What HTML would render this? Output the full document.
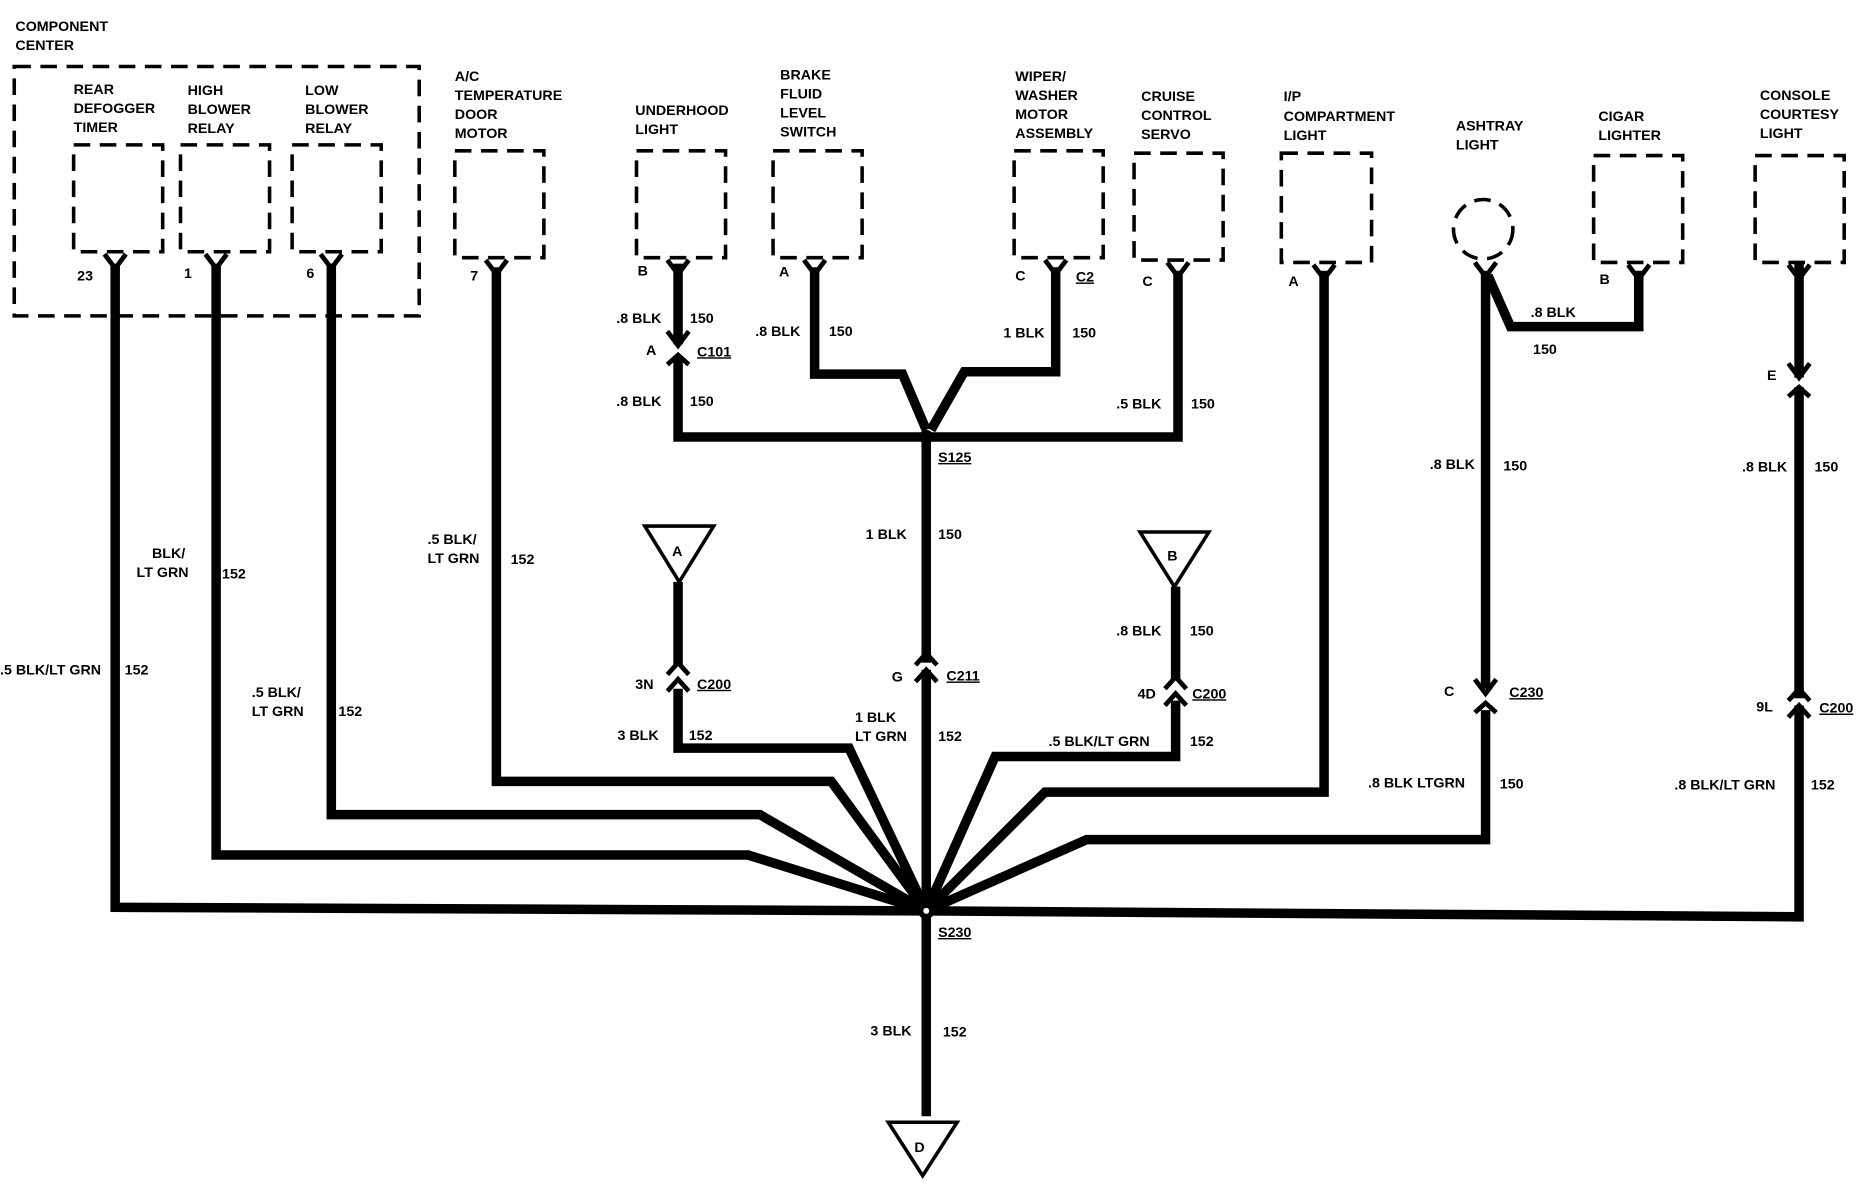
<!DOCTYPE html>
<html><head><meta charset="utf-8"><style>
html,body{margin:0;padding:0;background:#fff;}
svg{display:block}
text{font-family:"Liberation Sans",sans-serif;font-weight:bold;font-size:12px;fill:#000}
.u{text-decoration:underline}
</style></head><body>
<svg width="1862" height="1184" viewBox="0 0 1568 997" preserveAspectRatio="none" xmlns="http://www.w3.org/2000/svg">
<g fill="none" stroke="#000" stroke-width="3" stroke-dasharray="14,8">
<rect x="12" y="56" width="341" height="210"/>
<rect x="62" y="122" width="75" height="90"/>
<rect x="152" y="122" width="75" height="90"/>
<rect x="246" y="122" width="75" height="90"/>
<rect x="383" y="127" width="75" height="90"/>
<rect x="536" y="127" width="75" height="90"/>
<rect x="651" y="127" width="75" height="90"/>
<rect x="854" y="127" width="75" height="90"/>
<rect x="955" y="129" width="75" height="90"/>
<rect x="1079" y="129" width="76" height="92"/>
<circle cx="1249" cy="193" r="25"/>
<rect x="1342" y="131" width="75" height="90"/>
<rect x="1478" y="131" width="75" height="90"/>
</g>
<g fill="none" stroke="#000" stroke-width="8" stroke-linejoin="miter">
<polyline points="97,222 97,764 780,767"/>
<polyline points="182,222 182,720 630,720 780,767"/>
<polyline points="279,222 279,686 640,686 780,767"/>
<polyline points="418,225 418,658 700,658 780,767"/>
<polyline points="571,580 571,630 715,630 780,767"/>
<line x1="571" y1="490" x2="571" y2="560"/>
<line x1="780" y1="368" x2="780" y2="940"/>
<polyline points="990,590 990,637 838,637 780,767"/>
<line x1="990" y1="494" x2="990" y2="572"/>
<polyline points="1115,228 1115,667 880,667 780,767"/>
<polyline points="1251,228 1251,580"/>
<polyline points="1251,598 1251,707 915,707 780,767"/>
<polyline points="1515,222 1515,772 780,767"/>
<polyline points="571,222 571,290"/>
<polyline points="571,300 571,368 992,368 992,228"/>
<polyline points="686,225 686,315 760,315 780,362"/>
<polyline points="889,225 889,313 812,313 784,362"/>
<polyline points="1253,232 1272,275 1380,275 1380,228"/>
</g>
<g fill="#fff">
<rect x="560" y="291" width="22" height="8"/>
<rect x="560" y="566" width="22" height="6"/>
<rect x="769" y="558" width="22" height="6"/>
<rect x="979" y="578" width="22" height="6"/>
<rect x="1240" y="584" width="22" height="8"/>
<rect x="1504" y="318" width="22" height="8"/>
<rect x="1504" y="588" width="22" height="6"/>
</g>
<g fill="none" stroke="#000" stroke-width="4">
<polyline points="88,214 97,226 106,214"/>
<polyline points="173,214 182,226 191,214"/>
<polyline points="270,214 279,226 288,214"/>
<polyline points="409,219 418,231 427,219"/>
<polyline points="562,219 571,231 580,219"/>
<polyline points="677,219 686,231 695,219"/>
<polyline points="880,219 889,231 898,219"/>
<polyline points="983,221 992,233 1001,221"/>
<polyline points="1106,223 1115,235 1124,223"/>
<polyline points="1242,221 1251,233 1260,221"/>
<polyline points="1371,223 1380,235 1389,223"/>
<polyline points="1506,223 1515,235 1524,223"/>
<polyline points="562,279 571,291 580,279"/><polyline points="562,307 571,299 580,307"/>
<polyline points="562,568 571,558 580,568"/><polyline points="562,582 571,572 580,582"/>
<polyline points="771,560 780,550 789,560"/><polyline points="771,574 780,564 789,574"/>
<polyline points="981,580 990,570 999,580"/><polyline points="981,594 990,584 999,594"/>
<polyline points="1242,572 1251,584 1260,572"/><polyline points="1242,600 1251,592 1260,600"/>
<polyline points="1506,306 1515,318 1524,306"/><polyline points="1506,334 1515,326 1524,334"/>
<polyline points="1506,590 1515,580 1524,590"/><polyline points="1506,604 1515,594 1524,604"/>
</g>
<g fill="#fff" stroke="#000" stroke-width="3">
<polygon points="543,443 601,443 572,490"/>
<polygon points="960,448 1018,448 989,494"/>
<polygon points="748,945 806,945 777,990"/>
</g>
<circle cx="780" cy="368" r="6" fill="#000"/>
<circle cx="780" cy="767" r="7" fill="#000"/>
<circle cx="780" cy="767" r="2.5" fill="#fff"/>
<text x="566" y="468" font-size="15">A</text>
<text x="983" y="472" font-size="15">B</text>
<text x="770" y="970" font-size="15">D</text>
<g>
<text x="13" y="26">COMPONENT</text><text x="13" y="42">CENTER</text>
<text x="62" y="79">REAR</text><text x="62" y="95">DEFOGGER</text><text x="62" y="111">TIMER</text>
<text x="158" y="80">HIGH</text><text x="158" y="96">BLOWER</text><text x="158" y="112">RELAY</text>
<text x="257" y="80">LOW</text><text x="257" y="96">BLOWER</text><text x="257" y="112">RELAY</text>
<text x="383" y="68">A/C</text><text x="383" y="84">TEMPERATURE</text><text x="383" y="100">DOOR</text><text x="383" y="116">MOTOR</text>
<text x="535" y="97">UNDERHOOD</text><text x="535" y="113">LIGHT</text>
<text x="657" y="67">BRAKE</text><text x="657" y="83">FLUID</text><text x="657" y="99">LEVEL</text><text x="657" y="115">SWITCH</text>
<text x="855" y="68">WIPER/</text><text x="855" y="84">WASHER</text><text x="855" y="100">MOTOR</text><text x="855" y="116">ASSEMBLY</text>
<text x="961" y="85">CRUISE</text><text x="961" y="101">CONTROL</text><text x="961" y="117">SERVO</text>
<text x="1081" y="85">I/P</text><text x="1081" y="102">COMPARTMENT</text><text x="1081" y="118">LIGHT</text>
<text x="1226" y="110">ASHTRAY</text><text x="1226" y="126">LIGHT</text>
<text x="1346" y="102">CIGAR</text><text x="1346" y="118">LIGHTER</text>
<text x="1482" y="84">CONSOLE</text><text x="1482" y="100">COURTESY</text><text x="1482" y="116">LIGHT</text>
<text x="65" y="236">23</text><text x="155" y="234">1</text><text x="258" y="234">6</text><text x="396" y="236">7</text>
<text x="537" y="232">B</text><text x="656" y="233">A</text><text x="855" y="236">C</text><text x="906" y="237" class="u">C2</text>
<text x="962" y="241">C</text><text x="1085" y="241">A</text><text x="1347" y="239">B</text>
<text x="519" y="272">.8 BLK</text><text x="581" y="272">150</text>
<text x="544" y="299">A</text><text x="587" y="300" class="u">C101</text>
<text x="519" y="342">.8 BLK</text><text x="581" y="342">150</text>
<text x="636" y="283">.8 BLK</text><text x="698" y="283">150</text>
<text x="845" y="284">1 BLK</text><text x="903" y="284">150</text>
<text x="940" y="344">.5 BLK</text><text x="1003" y="344">150</text>
<text x="1289" y="267">.8 BLK</text><text x="1291" y="298">150</text>
<text x="1488" y="320">E</text>
<text x="790" y="389" class="u">S125</text>
<text x="1204" y="395">.8 BLK</text><text x="1266" y="396">150</text>
<text x="1467" y="397">.8 BLK</text><text x="1528" y="397">150</text>
<text x="729" y="454">1 BLK</text><text x="790" y="454">150</text>
<text x="128" y="470">BLK/</text><text x="115" y="486">LT GRN</text><text x="187" y="487">152</text>
<text x="360" y="458">.5 BLK/</text><text x="360" y="474">LT GRN</text><text x="430" y="475">152</text>
<text x="940" y="535">.8 BLK</text><text x="1002" y="535">150</text>
<text x="0" y="568">.5 BLK/LT GRN</text><text x="105" y="568">152</text>
<text x="751" y="574">G</text><text x="797" y="573" class="u">C211</text>
<text x="535" y="580">3N</text><text x="587" y="580" class="u">C200</text>
<text x="958" y="588">4D</text><text x="1004" y="588" class="u">C200</text>
<text x="1216" y="586">C</text><text x="1271" y="587" class="u">C230</text>
<text x="1479" y="599">9L</text><text x="1532" y="600" class="u">C200</text>
<text x="212" y="587">.5 BLK/</text><text x="212" y="603">LT GRN</text><text x="285" y="603">152</text>
<text x="720" y="608">1 BLK</text><text x="720" y="624">LT GRN</text><text x="790" y="624">152</text>
<text x="520" y="623">3 BLK</text><text x="580" y="623">152</text>
<text x="883" y="628">.5 BLK/LT GRN</text><text x="1002" y="628">152</text>
<text x="1152" y="663">.8 BLK LTGRN</text><text x="1263" y="664">150</text>
<text x="1410" y="665">.8 BLK/LT GRN</text><text x="1525" y="665">152</text>
<text x="790" y="789" class="u">S230</text>
<text x="733" y="872">3 BLK</text><text x="794" y="873">152</text>
</g>
</svg>
</body></html>
